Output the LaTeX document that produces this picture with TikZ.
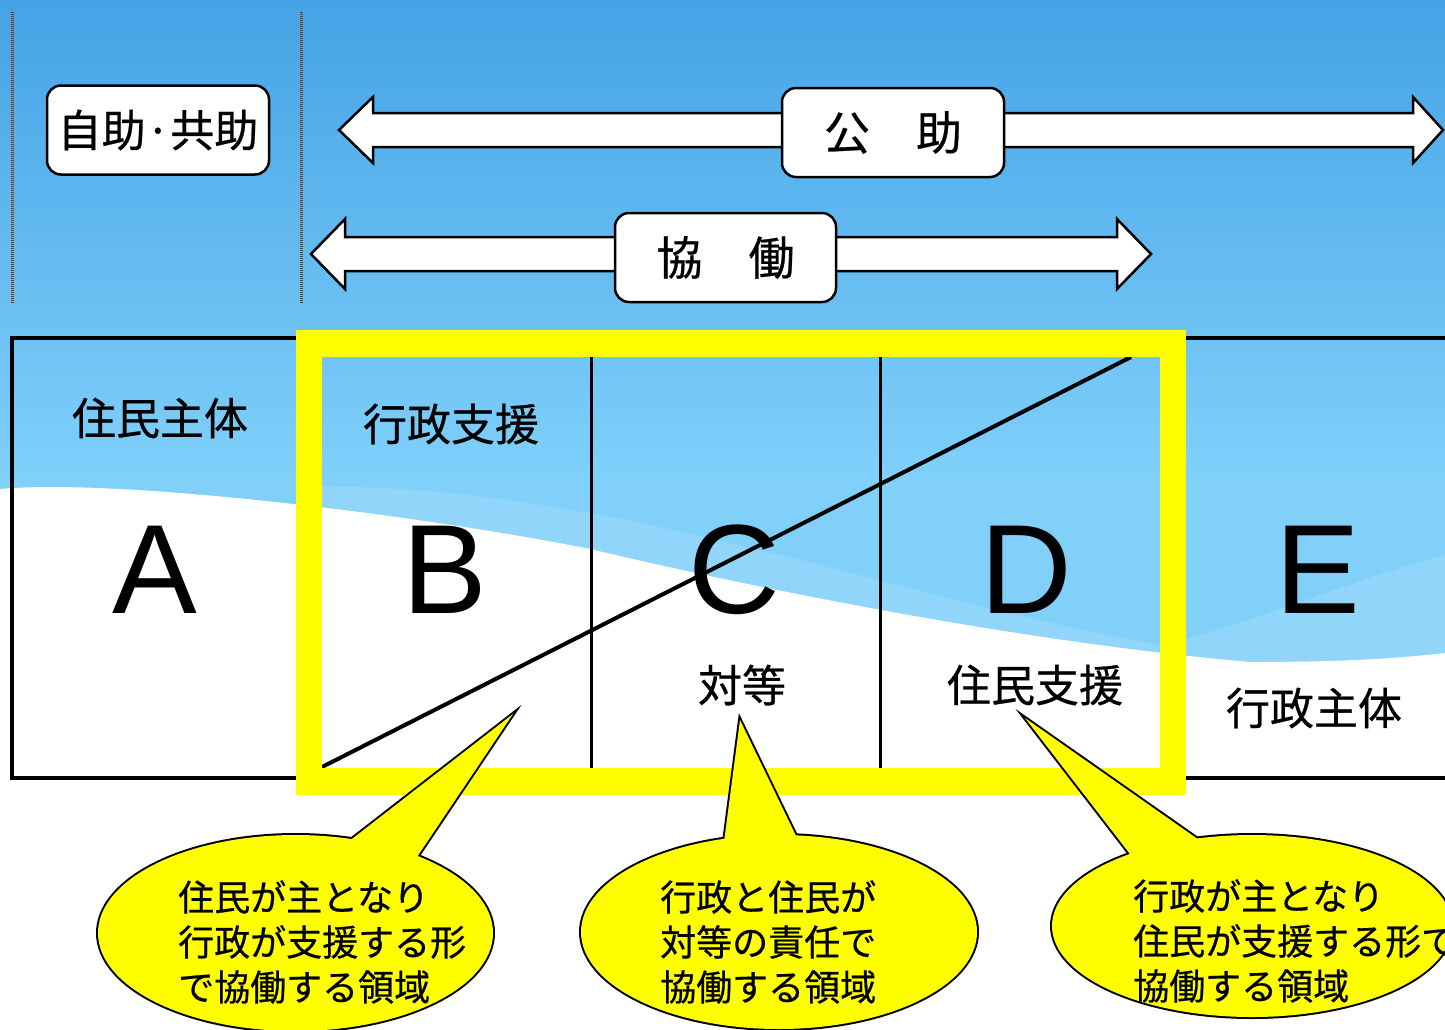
\documentclass[tikz,border=0pt]{standalone}
\usepackage{fontspec}
\setmainfont{Liberation Sans}
\newfontfamily\jp[FakeBold=0.6]{Noto Sans CJK JP}
\definecolor{bgtop}{RGB}{68,163,230}
\definecolor{bgbot}{RGB}{128,208,250}
\definecolor{callyellow}{RGB}{255,255,0}
\begin{document}
\begin{tikzpicture}[x=1pt,y=-1pt,
  blockarrow/.style={fill=white, draw=black, line width=2.5pt, line join=miter},
  labelbox/.style={draw=black, fill=white, line width=2.5pt, rounded corners=14pt, inner sep=0pt},
  boxtext/.style={font=\jp\fontsize{44}{52}\selectfont},
  celltext/.style={font=\jp\fontsize{44}{52}\selectfont, inner sep=0pt},
  bigletter/.style={font=\fontsize{127}{130}\selectfont, inner sep=0pt},
  calltext/.style={font=\jp\fontsize{36}{44}\selectfont, inner sep=0pt, anchor=west},
  callline/.style={draw=black, line width=4pt},
  callfill/.style={fill=callyellow},
  dotline/.style={draw=gray!55!black, line width=3pt, dash pattern=on 1pt off 1pt},
  tableline/.style={draw=black, line width=4pt},
  divider/.style={draw=black, line width=3pt},
  frame/.style={draw=callyellow, line width=26.5pt}
]
\useasboundingbox (0,0) rectangle (1445,1029);
\clip (0,0) rectangle (1445,1029);

% background
\shade[top color=bgtop, bottom color=bgbot] (0,0) rectangle (1445,480);
\fill[bgbot] (0,479) rectangle (1445,1029);
\fill[white, opacity=0.14] (300,487) .. controls (600,480) and (900,600) .. (1160,645)
   .. controls (1250,625) and (1350,580) .. (1445,555) -- (1445,720) -- (300,720) -- cycle;
\fill[white] (0,489) .. controls (120,478) and (420,515) .. (590,549)
   .. controls (720,580) and (1000,640) .. (1250,662)
   .. controls (1350,662) and (1400,658) .. (1445,653)
   -- (1445,1029) -- (0,1029) -- cycle;

% dotted separators
\coordinate (d1a) at (12,12); \coordinate (d1b) at (12,303);
\coordinate (d2a) at (301,12); \coordinate (d2b) at (301,303);
\draw[dotline] (d1a) -- (d1b);
\draw[dotline] (d2a) -- (d2b);

% block arrows
\draw[blockarrow] (339,130) -- (373,97) -- (373,113) -- (1413,113) -- (1413,97) -- (1443,130)
   -- (1413,163) -- (1413,147) -- (373,147) -- (373,163) -- cycle;
\draw[blockarrow] (311,254) -- (345,219) -- (345,237) -- (1117,237) -- (1117,219) -- (1151,254)
   -- (1117,289) -- (1117,271) -- (345,271) -- (345,289) -- cycle;

% label boxes
\node[labelbox, boxtext, minimum width=222pt, minimum height=89pt] (jijo) at (158,130) {自助·共助};
\node[labelbox, boxtext, font=\jp\fontsize{46}{52}\selectfont, minimum width=222pt, minimum height=89pt] (kojo) at (893,132.5) {公　助};
\node[labelbox, boxtext, font=\jp\fontsize{46}{52}\selectfont, minimum width=221pt, minimum height=89pt] (kyodo) at (725.5,257.5) {協　働};

% table
\draw[tableline] (12,337.5) rectangle (1460,777.5);
\coordinate (v1t) at (591,357); \coordinate (v1b) at (591,768);
\coordinate (v2t) at (880,357); \coordinate (v2b) at (880,768);
\draw[divider] (v1t) -- (v1b);
\draw[divider] (v2t) -- (v2b);

% cell texts
\node[celltext] (tA) at (160,418) {住民主体};
\node[celltext] (tB) at (451,424) {行政支援};
\node[celltext] (tC) at (742,685) {対等};
\node[celltext] (tD) at (1035,685) {住民支援};
\node[celltext] (tE) at (1314,708) {行政主体};

\node[bigletter] (A) at (155,570) {A};
\node[bigletter] (B) at (445,570) {B};
\node[bigletter] (C) at (734,570) {C};
\node[bigletter] (D) at (1026,570) {D};
\node[bigletter] (E) at (1318,570) {E};

% diagonal
\coordinate (diagS) at (322,767); \coordinate (diagE) at (1131,357);
\draw[black, line width=4pt] (diagS) -- (diagE);

% yellow frame
\draw[frame] (309,343.5) rectangle (1173,781.5);

% callouts: outlines first, then fills
\path[callline] (295.5,933) ellipse [x radius=197.5, y radius=98];
\path[callline] (348,842) -- (513,714) -- (415,860) -- cycle;
\path[callline] (779,932) ellipse [x radius=198, y radius=97];
\path[callline] (724,842) -- (740,720) -- (798,840) -- cycle;
\path[callline] (1252,926) ellipse [x radius=200, y radius=91];
\path[callline] (1133,858) -- (1025,718) -- (1202,842) -- cycle;

\fill[callfill] (295.5,933) ellipse [x radius=197.5, y radius=98];
\fill[callfill] (348,842) -- (513,714) -- (415,860) -- cycle;
\fill[callfill] (779,932) ellipse [x radius=198, y radius=97];
\fill[callfill] (724,842) -- (740,720) -- (798,840) -- cycle;
\fill[callfill] (1252,926) ellipse [x radius=200, y radius=91];
\fill[callfill] (1133,858) -- (1025,718) -- (1202,842) -- cycle;

\node[calltext] (c1a) at (178,897) {住民が主となり};
\node[calltext] (c1b) at (178,942) {行政が支援する形};
\node[calltext] (c1c) at (178,987) {で協働する領域};

\node[calltext] (c2a) at (660,897) {行政と住民が};
\node[calltext] (c2b) at (660,942) {対等の責任で};
\node[calltext] (c2c) at (660,987) {協働する領域};

\node[calltext] (c3a) at (1133,896) {行政が主となり};
\node[calltext] (c3b) at (1133,941) {住民が支援する形で};
\node[calltext] (c3c) at (1133,986) {協働する領域};
\end{tikzpicture}
\end{document}
